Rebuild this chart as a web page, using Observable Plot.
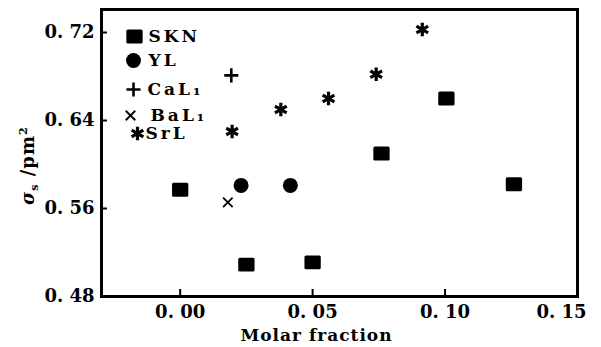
<!DOCTYPE html>
<html>
<head>
<meta charset="utf-8">
<script src="https://cdn.jsdelivr.net/npm/d3@7"></script>
<script src="https://cdn.jsdelivr.net/npm/@observablehq/plot@0.6"></script>
<style>
  html, body { margin: 0; padding: 0; background: #fff; }
  svg { font-family: "DejaVu Serif", "Liberation Serif", serif; }
  .legtext text { letter-spacing: 3px; }
  .xlab text { letter-spacing: 1px; }
  .ylab text { letter-spacing: 1px; }
</style>
</head>
<body>
<div id="chart"></div>
<script>
// ---- data ----
const seriesNames = ["SKN", "YL", "CaL₁", "BaL₁", "SrL"];
const sknX = [0.000, 0.025, 0.050, 0.076, 0.1005, 0.126];
const sknY = [0.577, 0.509, 0.511, 0.610, 0.660, 0.582];
const ylX = [0.023, 0.0416];
const ylY = [0.581, 0.581];
const calX = [0.0193];
const calY = [0.681];
const balX = [0.018];
const balY = [0.5655];
const srlX = [0.0196, 0.038, 0.056, 0.074, 0.0914];
const srlY = [0.630, 0.650, 0.660, 0.682, 0.7227];
const xTicks = [0.00, 0.05, 0.10, 0.15];
const yTicks = [0.48, 0.56, 0.64, 0.72];
const xLabel = "Molar fraction";
const yLabel = "σs /pm2";

const pts = (xs, ys) => xs.map((x, i) => ({x, y: ys[i]}));
const xDomain = [-0.0297, 0.15];
const yDomain = [0.48, 0.7409];
const fmt = d => d3.format(".2f")(d).replace(".", ". ");

const roundedSquare = {
  draw(ctx, size) {
    const s = Math.sqrt(size / Math.PI);
    const w = s * 0.95, h = s * 0.78;
    ctx.moveTo(-w, -h); ctx.lineTo(w, -h); ctx.lineTo(w, h); ctx.lineTo(-w, h); ctx.closePath();
  }
};

const styles = [
  {symbol: roundedSquare, r: 7, fill: "black", stroke: "black", strokeWidth: 3, strokeLinejoin: "round"},
  {symbol: "circle", r: 7.5, fill: "black", stroke: "none"},
  {symbol: "plus", r: 4.6, fill: "none", stroke: "black", strokeWidth: 2.6},
  {symbol: "times", r: 4.4, fill: "none", stroke: "black", strokeWidth: 1.8},
  {symbol: "asterisk", r: 6.4, fill: "none", stroke: "black", strokeWidth: 3.2}
];
const seriesData = [pts(sknX, sknY), pts(ylX, ylY), pts(calX, calY), pts(balX, balY), pts(srlX, srlY)];

const legendDy = [27, 51, 80, 106, 124];
const legendMarkDx = [33, 32, 32, 29, 36];
const legendTextDx = [47, 47, 46, 49, 44];

const marks = [];
// inward ticks
marks.push(Plot.ruleX(xTicks, {x: d => d, y1: yDomain[0], y2: yDomain[0], insetTop: -7, stroke: "black", strokeWidth: 2}));
marks.push(Plot.ruleY(yTicks, {y: d => d, x1: xDomain[0], x2: xDomain[0], insetRight: -6, stroke: "black", strokeWidth: 2}));
const axisStyle = {tickSize: 0, tickFormat: fmt, fontSize: 18, fontWeight: "bold", label: null, fill: "black"};
marks.push(Plot.axisX(xTicks.slice(0, 3), {...axisStyle, tickPadding: 9}));
marks.push(Plot.axisX(xTicks.slice(3), {...axisStyle, tickPadding: 9, dx: -16}));
marks.push(Plot.axisY(yTicks, {...axisStyle, tickPadding: 7}));
marks.push(Plot.frame({stroke: "black", strokeWidth: 3}));
seriesData.forEach((data, i) => {
  marks.push(Plot.dot(data, {x: "x", y: "y", ...styles[i]}));
});
// legend
seriesNames.forEach((name, i) => {
  marks.push(Plot.dot([name], {frameAnchor: "top-left", dx: legendMarkDx[i], dy: legendDy[i], ...styles[i]}));
  marks.push(Plot.text([name], {text: d => d, frameAnchor: "top-left", dx: legendTextDx[i], dy: legendDy[i], textAnchor: "start", lineAnchor: "middle", fontSize: 17, fontWeight: "bold", fill: "black", className: "legtext"}));
});
// axis labels
marks.push(Plot.text([xLabel], {text: d => d, frameAnchor: "bottom", dx: -23, dy: 39, lineAnchor: "middle", fontSize: 17, fontWeight: "bold", fill: "black", className: "xlab"}));
marks.push(Plot.text([yLabel], {text: d => d, frameAnchor: "left", rotate: -90, textAnchor: "start", lineAnchor: "middle", fontSize: 18, fontWeight: "bold", fill: "black", className: "ylab"}));

const chart = Plot.plot({
  width: 601,
  height: 347,
  marginLeft: 101,
  marginRight: 24,
  marginTop: 9,
  marginBottom: 51,
  style: {fontFamily: "'DejaVu Serif', 'Liberation Serif', serif", background: "white"},
  x: {domain: xDomain},
  y: {domain: yDomain},
  marks
});
document.getElementById("chart").appendChild(chart);

// y label: position it left of the axis, with subscript s and superscript 2
d3.select(chart).selectAll("g.ylab").attr("transform", null);
d3.select(chart).selectAll("text").filter(function() { return this.textContent === yLabel; }).each(function() {
  const t = d3.select(this);
  t.attr("x", null).attr("y", null).attr("dx", null).attr("dy", "0.32em")
   .attr("text-anchor", "start")
   .attr("transform", "translate(28,205) rotate(-90)");
  t.text(null);
  t.append("tspan").text("σ").attr("font-style", "italic");
  t.append("tspan").text("s").attr("font-size", 11).attr("dy", 4);
  t.append("tspan").text(" /pm").attr("dy", -4);
  t.append("tspan").text("2").attr("font-size", 11).attr("dy", -7);
});
</script>
</body>
</html>
